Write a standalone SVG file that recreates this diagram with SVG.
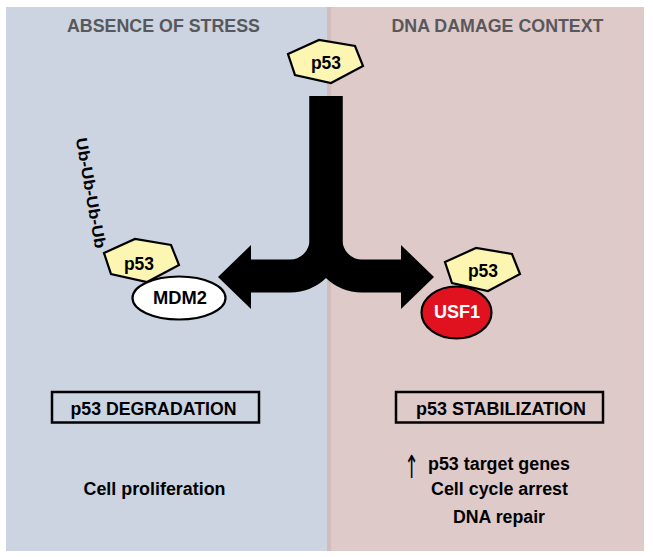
<svg xmlns="http://www.w3.org/2000/svg" width="653" height="557" viewBox="0 0 653 557">
<defs>
<style>
.t{font-family:"Liberation Sans",Arial,sans-serif;font-weight:bold;fill:#000;}
.title{font-size:18.5px;fill:#58585c;}
.hex{fill:#fdf6b2;stroke:#000;stroke-width:2.2;stroke-linejoin:miter;}
.box{fill:none;stroke:#000;stroke-width:2.5;}
.arm{fill:none;stroke:#000;stroke-width:33;}
</style>
<polygon id="hexshape" points="-37,-7 -6,-21 30,-15 38,5 6,22 -30,14"/>
</defs>
<rect width="653" height="557" fill="#ffffff"/>
<g id="panels">
<rect x="6" y="7" width="322" height="544" fill="#cbd4e0"/>
<rect x="328" y="7" width="316" height="544" fill="#dfcaca"/>
<rect x="327" y="7" width="4" height="544" fill="#cfb8b8" opacity="0.8"/>
</g>
<g id="titles">
<text class="t title" x="163.5" y="32" text-anchor="middle" textLength="193" lengthAdjust="spacingAndGlyphs">ABSENCE OF STRESS</text>
<text class="t title" x="497.5" y="32" text-anchor="middle" textLength="212" lengthAdjust="spacingAndGlyphs">DNA DAMAGE CONTEXT</text>
</g>
<g id="connectors">
<path class="arm" d="M326,96 V240 A36,36 0 0 1 290,276 H250"/>
<path class="arm" d="M326,96 V240 A36,36 0 0 0 362,276 H402"/>
<polygon points="251,245 218,277 251,309" fill="#000"/>
<polygon points="401,245 434,277 401,309" fill="#000"/>
</g>
<g id="p53-top">
<use href="#hexshape" class="hex" transform="translate(325,61)"/>
<text class="t" x="326" y="69" font-size="17.5" text-anchor="middle">p53</text>
</g>
<g id="ub-chain">
<text class="t" font-size="16" text-anchor="middle" dominant-baseline="central" transform="translate(91,193) rotate(80)" textLength="112" lengthAdjust="spacingAndGlyphs">Ub-Ub-Ub-Ub</text>
</g>
<g id="p53-mdm2">
<use href="#hexshape" class="hex" transform="translate(141,260)"/>
<text class="t" x="139" y="270" font-size="17.5" text-anchor="middle">p53</text>
</g>
<g id="mdm2">
<ellipse cx="179" cy="298" rx="46.5" ry="21.5" fill="#ffffff" stroke="#000" stroke-width="2.2"/>
<text class="t" x="180" y="304" font-size="17.5" text-anchor="middle" textLength="54" lengthAdjust="spacingAndGlyphs">MDM2</text>
</g>
<g id="p53-usf1">
<use href="#hexshape" class="hex" transform="translate(482,269)"/>
<text class="t" x="483" y="277" font-size="17.5" text-anchor="middle">p53</text>
</g>
<g id="usf1">
<ellipse cx="456.5" cy="312.5" rx="35" ry="26" fill="#e0121f" stroke="#000" stroke-width="2.2"/>
<text class="t" x="457" y="318" font-size="18" text-anchor="middle" style="fill:#ffffff">USF1</text>
</g>
<g id="degradation">
<rect class="box" x="52" y="392" width="207" height="30.5"/>
<text class="t" x="153.5" y="414.5" font-size="17.5" text-anchor="middle" textLength="166" lengthAdjust="spacingAndGlyphs">p53 DEGRADATION</text>
</g>
<g id="stabilization">
<rect class="box" x="396" y="392" width="207" height="30.5"/>
<text class="t" x="501" y="414.5" font-size="17.5" text-anchor="middle" textLength="170" lengthAdjust="spacingAndGlyphs">p53 STABILIZATION</text>
</g>
<g id="outcome-left">
<text class="t" x="154.5" y="495" font-size="17.5" text-anchor="middle" textLength="142" lengthAdjust="spacingAndGlyphs">Cell proliferation</text>
</g>
<g id="outcome-right">
<text x="0" y="0" font-family="'DejaVu Sans',sans-serif" font-size="22" text-anchor="middle" fill="#000" transform="translate(411.5,478) scale(0.8,1.45)">↑</text>
<text class="t" x="499" y="469.5" font-size="17.5" text-anchor="middle" textLength="142" lengthAdjust="spacingAndGlyphs">p53 target genes</text>
<text class="t" x="499.5" y="494.5" font-size="17.5" text-anchor="middle" textLength="137" lengthAdjust="spacingAndGlyphs">Cell cycle arrest</text>
<text class="t" x="499" y="523" font-size="17.5" text-anchor="middle" textLength="92" lengthAdjust="spacingAndGlyphs">DNA repair</text>
</g>
</svg>
